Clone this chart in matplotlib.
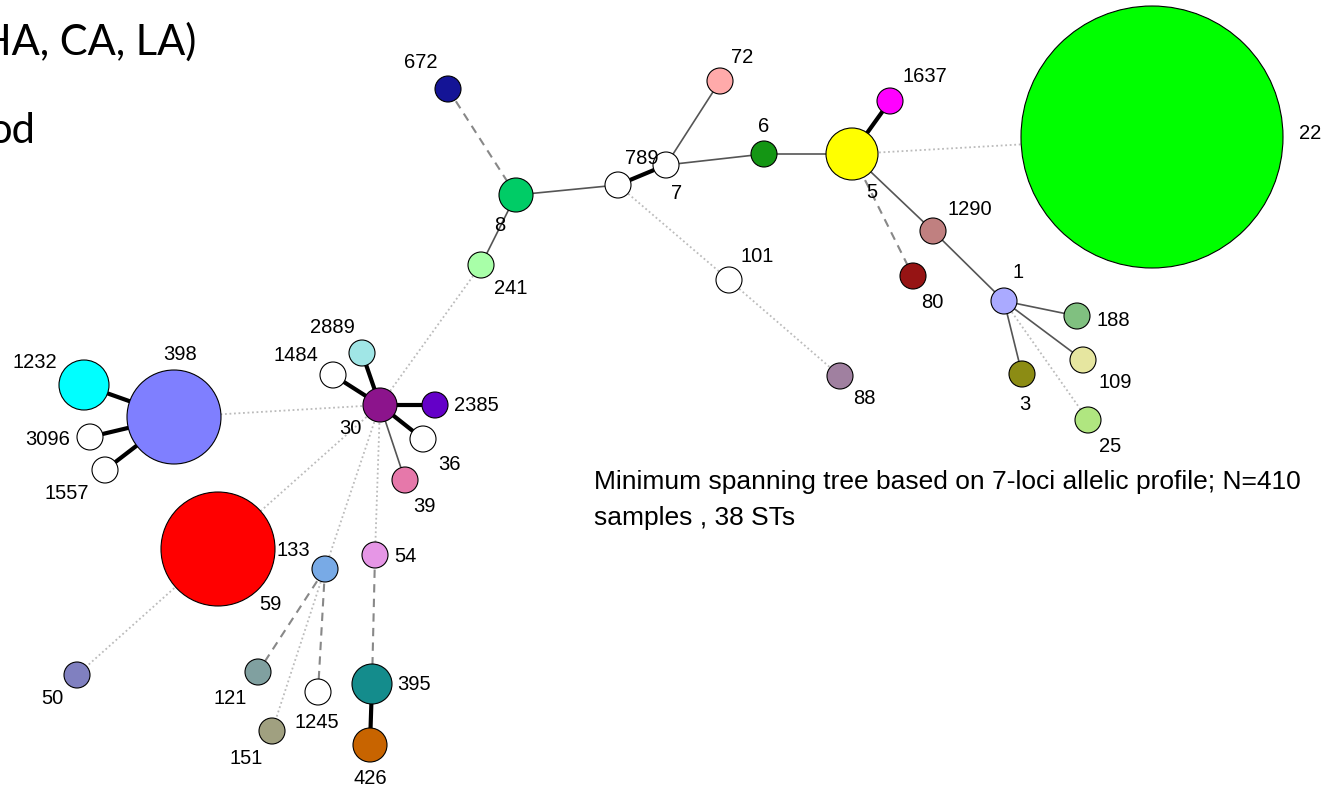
import matplotlib.pyplot as plt
from matplotlib.patches import Circle

# node layout (pixel-like layout coordinates, y grows downward)
st_ids = ['22', '5', '6', '7', '789', '72', '1637', '1290', '80', '101', '88',
          '1', '188', '109', '3', '25', '8', '672', '241',
          '30', '2889', '1484', '2385', '36', '39',
          '398', '1232', '3096', '1557', '59', '50',
          '133', '121', '1245', '151', '54', '395', '426']
node_x = [1152, 852, 764, 666, 618, 720, 890, 933, 913, 729, 840,
          1004, 1077, 1083, 1022, 1088, 516, 448, 481,
          380, 362, 333, 435, 423, 405,
          174, 84, 90, 105, 218, 77,
          325, 258, 318, 272, 375, 372, 370]
node_y = [137, 154, 154, 165, 185, 81, 101, 231, 276, 280, 376,
          301, 316, 360, 374, 420, 195, 89, 265,
          405, 353, 375, 405, 439, 480,
          417, 385, 437, 470, 549, 675,
          569, 672, 692, 731, 555, 684, 745]
node_r = [131, 26, 13, 13, 13, 13, 13, 13, 13, 13, 13,
          13, 13, 13, 13, 13, 17, 13, 13,
          17, 13, 13, 13, 13, 13,
          47, 25, 13, 13, 57, 13,
          13, 13, 13, 13, 13, 20, 17]
node_colors = ['#00FF00', '#FFFF00', '#149614', '#FFFFFF', '#FFFFFF', '#FFAAAA',
               '#FF00FF', '#C08080', '#961414', '#FFFFFF', '#A080A0',
               '#AAAAFF', '#80C080', '#E6E6A0', '#8C8C14', '#B0E680',
               '#00CC66', '#141496', '#A8FFA8',
               '#8C148C', '#A0E6E6', '#FFFFFF', '#6400C8', '#FFFFFF', '#E678AA',
               '#7F7FFF', '#00FFFF', '#FFFFFF', '#FFFFFF', '#FF0000', '#8080C0',
               '#78AAE6', '#80A0A0', '#FFFFFF', '#A0A080', '#E696E6', '#148C8C', '#C86400']
label_dx = [158, 20, 0, 11, 24, 22, 35, 37, 19, 28, 24,
            14, 36, 32, 3, 22, -16, -27, 30,
            -30, -30, -37, 41, 26, 19,
            6, -49, -42, -38, 52, -25,
            -32, -28, -1, -26, 30, 42, 0]
label_dy = [-4, 38, -28, 28, -27, -24, -25, -22, 26, -24, 22,
            -28, 4, 22, 30, 26, 30, -27, 23,
            23, -26, -20, 0, 25, 27,
            -63, -23, 2, 23, 56, 24,
            -19, 27, 30, 28, 1, 1, 33]

# tree links: (from, to, link type)
links = [('672', '8', 'dashed'), ('8', '241', 'thin'), ('8', '789', 'thin'),
         ('789', '7', 'thick'), ('7', '72', 'thin'), ('7', '6', 'thin'),
         ('6', '5', 'thin'), ('5', '1637', 'thick'), ('5', '22', 'dotted'),
         ('5', '1290', 'thin'), ('5', '80', 'dashed'), ('1290', '1', 'thin'),
         ('1', '188', 'thin'), ('1', '109', 'thin'), ('1', '3', 'thin'),
         ('1', '25', 'dotted'), ('789', '101', 'dotted'), ('101', '88', 'dotted'),
         ('241', '30', 'dotted'), ('30', '2889', 'thick'), ('30', '1484', 'thick'),
         ('30', '2385', 'thick'), ('30', '36', 'thick'), ('30', '39', 'thin'),
         ('30', '398', 'dotted'), ('30', '59', 'dotted'), ('30', '133', 'dotted'),
         ('30', '54', 'dotted'), ('398', '1232', 'thick'), ('398', '3096', 'thick'),
         ('398', '1557', 'thick'), ('59', '50', 'dotted'), ('133', '121', 'dashed'),
         ('133', '1245', 'dashed'), ('133', '151', 'dotted'), ('54', '395', 'dashed'),
         ('395', '426', 'thick')]

link_styles = {
    'thick': dict(color='black', lw=3.0, ls='-'),
    'thin': dict(color='#555555', lw=1.2, ls='-'),
    'dashed': dict(color='#888888', lw=1.5, ls=(0, (4, 3))),
    'dotted': dict(color='#BBBBBB', lw=1.3, ls=(0, (1, 1.5))),
}

caption = 'Minimum spanning tree based on 7-loci allelic profile; N=410\nsamples , 38 STs'

fig = plt.figure(figsize=(13.39, 7.88), dpi=100)
ax = fig.add_axes([0, 0, 1, 1])
ax.set_xlim(0, 1339)
ax.set_ylim(788, 0)
ax.set_aspect('equal')
ax.axis('off')

pos = {s: (x, y) for s, x, y in zip(st_ids, node_x, node_y)}

for a, b, kind in links:
    (x0, y0), (x1, y1) = pos[a], pos[b]
    ax.plot([x0, x1], [y0, y1], zorder=1, solid_capstyle='butt', **link_styles[kind])

for s, x, y, r, c in zip(st_ids, node_x, node_y, node_r, node_colors):
    ax.add_patch(Circle((x, y), r, facecolor=c, edgecolor='black', lw=0.8, zorder=2))

for s, x, y, dx, dy in zip(st_ids, node_x, node_y, label_dx, label_dy):
    ax.text(x + dx, y + dy, s, ha='center', va='center', fontsize=14.5,
            family='Liberation Sans', zorder=3)

ax.text(594, 500, caption, ha='left', va='center', fontsize=19,
        family='Liberation Sans', linespacing=1.6)

# leftover slide text, clipped at the left edge
ax.text(196, 55, 'HA, CA, LA)', ha='right', va='baseline', fontsize=30, family='Lato')
ax.text(35, 143, 'od', ha='right', va='baseline', fontsize=30, family='Lato')

fig.savefig('out.png', dpi=100)
